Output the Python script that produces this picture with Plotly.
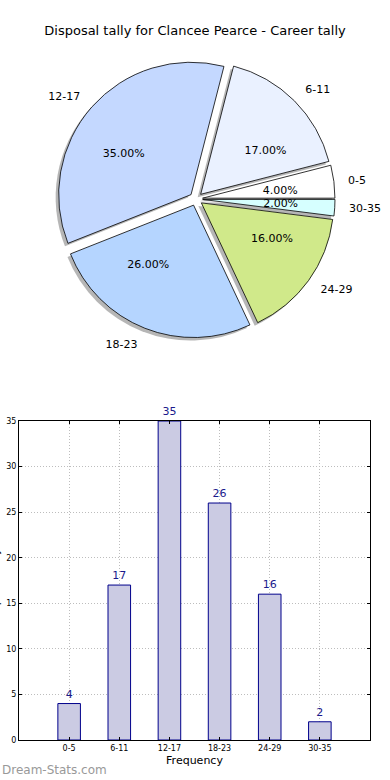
import plotly.graph_objects as go

# ---- data ----
categories = ["0-5", "6-11", "12-17", "18-23", "24-29", "30-35"]
counts = [4, 17, 35, 26, 16, 2]
pie_colors = ["#ffffff", "#eaf1ff", "#c4d8ff", "#b5d5ff", "#d0e98a", "#d6ffff"]
title_text = "Disposal tally for Clancee Pearce - Career tally"
y_ticks = [0, 5, 10, 15, 20, 25, 30, 35]

W, H = 390, 780
FONT = "DejaVu Sans, Liberation Sans, sans-serif"

def px_dom(cx, cy, half):
    return dict(x=[(cx - half) / W, (cx + half) / W],
                y=[1 - (cy + half) / H, 1 - (cy - half) / H])

n = len(categories)
# plotly's counterclockwise pies end the first slice at `rotation`;
# shift so the first slice starts at 3 o'clock like the reference
start_rot = 90 - 360 * counts[0] / sum(counts)
common = dict(labels=categories, values=counts, sort=False,
              direction="counterclockwise", rotation=start_rot,
              hoverinfo="skip", showlegend=False)
clear = dict(colors=["rgba(0,0,0,0)"] * n, line=dict(width=0))
txtfont = dict(family=FONT, size=11, color="#000000")

CX, CY = 196, 199

fig = go.Figure()

# shadow
fig.add_trace(go.Pie(**common, domain=px_dom(CX - 3, CY + 3, 139), pull=[0.05] * n,
                     marker=dict(colors=["rgba(110,110,110,0.5)"] * n, line=dict(width=0)),
                     textinfo="none"))
# main pie
fig.add_trace(go.Pie(**common, domain=px_dom(CX, CY, 139), pull=[0.05] * n,
                     marker=dict(colors=pie_colors, line=dict(color="#000000", width=0.8)),
                     textinfo="none"))
# category labels (transparent, slightly larger pie so labels sit further out)
fig.add_trace(go.Pie(**common, domain=px_dom(CX, CY, 150), pull=[0.05] * n,
                     marker=clear, texttemplate="%{label}", textposition="outside",
                     outsidetextfont=txtfont))
# percent labels: split in two transparent inner pies to avoid label scooting
pct_a = ["%{percent:.2%}" if i % 2 == 0 else "" for i in range(n)]
pct_b = ["%{percent:.2%}" if i % 2 == 1 else "" for i in range(n)]
for tmpl in (pct_a, pct_b):
    fig.add_trace(go.Pie(**common, domain=px_dom(CX, CY, 64), pull=[0.13] * n,
                         marker=clear, texttemplate=tmpl, textposition="outside",
                         outsidetextfont=txtfont))

# bar chart
fig.add_trace(go.Bar(x=categories, y=counts, width=0.45,
                     marker=dict(color="#cbcbe3", line=dict(color="#00008b", width=1)),
                     text=[str(v) for v in counts], textposition="outside",
                     textfont=dict(family=FONT, size=11, color="#1a1a8c"),
                     cliponaxis=False, hoverinfo="skip", showlegend=False))

grid = dict(showgrid=True, gridcolor="#bdbdbd", griddash="1px,2px", gridwidth=1)
axis_common = dict(automargin=False, showline=True, mirror="ticks",
                   linecolor="#000000", linewidth=1,
                   ticks="inside", ticklen=3, tickcolor="#000000",
                   tickfont=dict(family=FONT, size=8),
                   zeroline=False, fixedrange=True, **grid)

fig.update_layout(
    template="none",
    width=W, height=H,
    margin=dict(l=0, r=0, t=0, b=0, pad=0),
    paper_bgcolor="white", plot_bgcolor="white",
    font=dict(family=FONT, color="#000000"),
    title=dict(text=title_text, x=0.5, xanchor="center", y=1 - 30 / H, yanchor="middle",
               font=dict(family=FONT, size=13, color="#000000")),
    xaxis=dict(domain=[19 / W, 370 / W], type="category", range=[-1, 6],
               title=dict(text="Frequency", font=dict(family=FONT, size=11), standoff=4),
               **axis_common),
    yaxis=dict(domain=[1 - 740 / H, 1 - 421 / H], range=[0, 35], tickvals=y_ticks,
               **axis_common),
    annotations=[
        dict(text="Disposal Tally", xref="paper", yref="paper", x=0, y=1 - 585 / H,
             xanchor="right", yanchor="middle", xshift=3, textangle=-90, showarrow=False,
             font=dict(family=FONT, size=11, color="#000000")),
        dict(text="Dream-Stats.com", xref="paper", yref="paper", x=0, y=0,
             xanchor="left", yanchor="bottom", yshift=1, showarrow=False,
             font=dict(family=FONT, size=12, color="#999999")),
    ],
)

fig.write_html("out.html", config={"displayModeBar": False},
               post_script="document.body.style.margin='0';")
